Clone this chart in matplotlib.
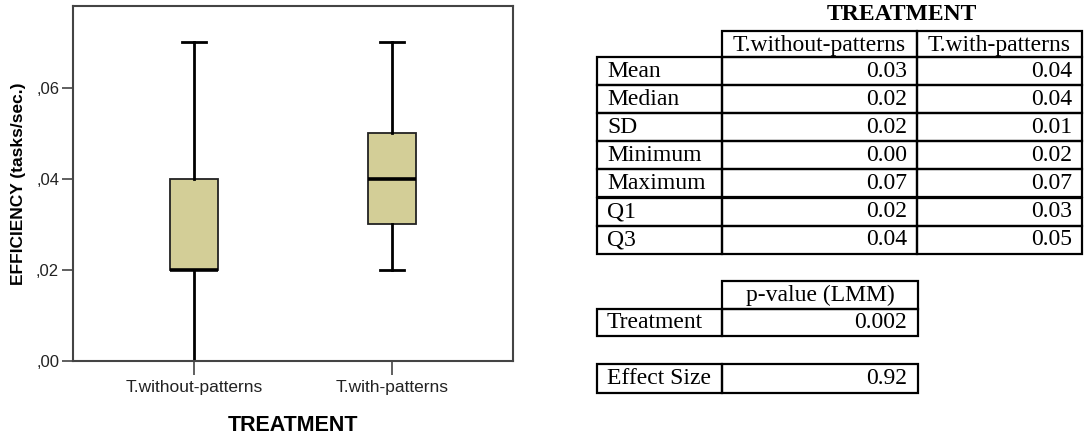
import matplotlib
matplotlib.use("Agg")
import matplotlib.pyplot as plt
from matplotlib.patches import Rectangle

# ---- data ----
groups = ["T.without-patterns", "T.with-patterns"]
q1 = [0.02, 0.03]
median = [0.02, 0.04]
q3 = [0.04, 0.05]
whis_lo = [0.00, 0.02]
whis_hi = [0.07, 0.07]
yticks = [0.00, 0.02, 0.04, 0.06]
ytick_labels = [",00", ",02", ",04", ",06"]

stat_names = ["Mean", "Median", "SD", "Minimum", "Maximum", "Q1", "Q3"]
col_without = ["0.03", "0.02", "0.02", "0.00", "0.07", "0.02", "0.04"]
col_with = ["0.04", "0.04", "0.01", "0.02", "0.07", "0.03", "0.05"]
pval_label = "Treatment"
pval_value = "0.002"
effect_label = "Effect Size"
effect_value = "0.92"

W, H = 1085, 436
fig = plt.figure(figsize=(W / 100, H / 100), dpi=100)

# ---- boxplot ----
ax = fig.add_axes([73 / W, 1 - 361 / H, 440 / W, 355 / H])
stats = []
for i in range(len(groups)):
    stats.append(dict(q1=q1[i], med=median[i], q3=q3[i],
                      whislo=whis_lo[i], whishi=whis_hi[i], fliers=[], label=groups[i]))
ax.bxp(stats, positions=[1, 2], widths=0.245, patch_artist=True, showfliers=False,
       boxprops=dict(facecolor="#d3ce97", edgecolor="#222222", linewidth=1.3),
       medianprops=dict(color="black", linewidth=2.6),
       whiskerprops=dict(color="black", linewidth=2.0),
       capprops=dict(color="black", linewidth=2.0),
       capwidths=0.125)
ax.set_xlim(0.39, 2.61)
ax.set_ylim(0, 0.078)
ax.set_yticks(yticks)
ax.set_yticklabels(ytick_labels, family="Liberation Sans", fontsize=12, color="#222222")
ax.set_xticks([1, 2])
ax.set_xticklabels(groups, family="Liberation Sans", fontsize=12.5, color="#222222")
ax.tick_params(axis="y", length=8, width=1.2, color="#444444", pad=2)
ax.tick_params(axis="x", length=10, width=1.2, color="#444444", pad=4)
for s in ax.spines.values():
    s.set_color("#444444")
    s.set_linewidth(1.5)
ax.set_xlabel("TREATMENT", family="Liberation Sans", fontsize=15.5, fontweight="bold",
              labelpad=14)
ax.set_ylabel("EFFICIENCY (tasks/sec.)", family="Liberation Sans", fontsize=12.5,
              fontweight="bold", labelpad=7)

# ---- tables (pixel coordinate overlay) ----
tx = fig.add_axes([0, 0, 1, 1])
tx.set_xlim(0, W)
tx.set_ylim(H, 0)
tx.axis("off")
lw = 1.6
tfont = dict(family="Liberation Serif", fontsize=17, color="black")

def cell(x0, x1, y0, y1):
    tx.add_patch(Rectangle((x0, y0), x1 - x0, y1 - y0, fill=False, edgecolor="black",
                           linewidth=lw))

c0, c1, c2, c3 = 597, 722, 917, 1082
tx.text((c1 + c3) / 2, 15, "TREATMENT", ha="center", va="center", fontweight="bold", **tfont)
row_top = 31
rh = 28.1
cell(c1, c2, row_top, row_top + 26)
cell(c2, c3, row_top, row_top + 26)
tx.text((c1 + c2) / 2, row_top + 14, groups[0], ha="center", va="center", **tfont)
tx.text((c2 + c3) / 2, row_top + 14, groups[1], ha="center", va="center", **tfont)
y = row_top + 26
for i, name in enumerate(stat_names):
    y0, y1 = y + i * rh, y + (i + 1) * rh
    cell(c0, c1, y0, y1)
    cell(c1, c2, y0, y1)
    cell(c2, c3, y0, y1)
    ym = (y0 + y1) / 2
    tx.text(c0 + 10, ym, name, ha="left", va="center", **tfont)
    tx.text(c2 - 10, ym, col_without[i], ha="right", va="center", **tfont)
    tx.text(c3 - 10, ym, col_with[i], ha="right", va="center", **tfont)

# p-value table
cell(c1, 918, 281, 309)
tx.text((c1 + 918) / 2, 295, "p-value (LMM)", ha="center", va="center", **tfont)
cell(c0, c1, 309, 336)
cell(c1, 918, 309, 336)
tx.text(c0 + 10, 322.5, pval_label, ha="left", va="center", **tfont)
tx.text(918 - 11, 322.5, pval_value, ha="right", va="center", **tfont)

# effect size table
cell(c0, c1, 364, 393)
cell(c1, 918, 364, 393)
tx.text(c0 + 10, 378.5, effect_label, ha="left", va="center", **tfont)
tx.text(918 - 11, 378.5, effect_value, ha="right", va="center", **tfont)

fig.savefig("out.png", dpi=100)
